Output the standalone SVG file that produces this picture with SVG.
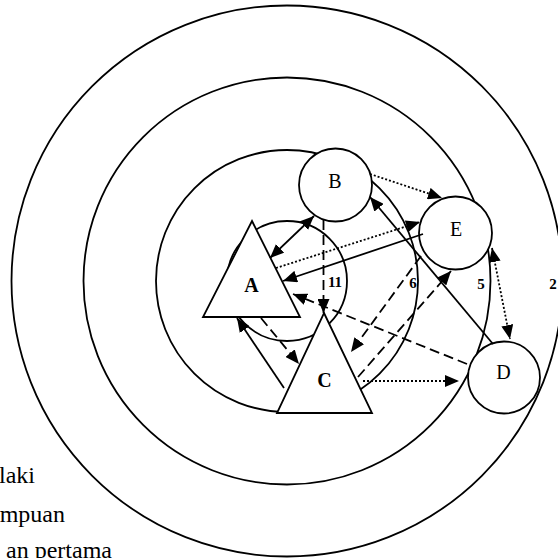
<svg xmlns="http://www.w3.org/2000/svg" width="558" height="558" viewBox="0 0 558 558">
<style>
.ring{fill:none;stroke:#000;stroke-width:1.8}
.node{fill:#fff;stroke:#000;stroke-width:1.8}
.lbl{font-family:"Liberation Serif","Times New Roman",serif;font-size:20px;text-anchor:middle;fill:#000}
.b{font-weight:bold}
.num{font-family:"Liberation Serif","Times New Roman",serif;font-size:15px;font-weight:bold;text-anchor:middle;fill:#000}
.leg{font-family:"Liberation Serif","Times New Roman",serif;font-size:24px;text-anchor:end;fill:#000}
.c{stroke:#000;stroke-width:1.8;fill:none}
.dash{stroke-dasharray:10 5}
.dot{stroke-dasharray:2 2}
</style>
<defs>
<marker id="ah" viewBox="0 0 14 12" refX="14" refY="6" markerWidth="14" markerHeight="12" markerUnits="userSpaceOnUse" orient="auto-start-reverse"><path d="M0,0L14,6L0,12z" fill="#000"/></marker>
</defs>
<g id="rings">
<circle class="ring" cx="287" cy="281" r="275.5"/>
<circle class="ring" cx="287" cy="281" r="203.5"/>
<circle class="ring" cx="287" cy="281" r="131"/>
<circle class="ring" cx="287" cy="281" r="60"/>
</g>
<g id="node-A"><polygon class="node" points="252,221 300,317 203,317"/><text class="lbl b" x="251.5" y="292">A</text></g>
<g id="node-C"><polygon class="node" points="324,313 372,413 277,413"/><text class="lbl b" x="324.5" y="387">C</text></g>
<g id="node-B"><circle class="node" cx="335.5" cy="185" r="36.5"/><text class="lbl" x="335" y="188">B</text></g>
<g id="node-E"><circle class="node" cx="455.5" cy="233" r="36.5"/><text class="lbl" x="456" y="236">E</text></g>
<g id="node-D"><circle class="node" cx="504" cy="377.5" r="36"/><text class="lbl" x="503.5" y="379">D</text></g>
<g id="connectors">
<line class="c" x1="270" y1="258" x2="314" y2="216" marker-start="url(#ah)" marker-end="url(#ah)"/>
<line class="c dot" x1="370" y1="174" x2="442" y2="198" marker-end="url(#ah)"/>
<line class="c" x1="423" y1="234" x2="283" y2="281" marker-end="url(#ah)"/>
<line class="c dot" x1="276" y1="268" x2="420" y2="222" marker-end="url(#ah)"/>
<line class="c" x1="493" y1="344" x2="370" y2="197" marker-end="url(#ah)"/>
<line class="c dash" x1="323.5" y1="220" x2="323.5" y2="313" marker-end="url(#ah)"/>
<line class="c dash" x1="467" y1="364" x2="293" y2="294" marker-end="url(#ah)"/>
<line class="c dash" x1="421" y1="256" x2="351" y2="352" marker-end="url(#ah)"/>
<line class="c dash" x1="358" y1="377" x2="451" y2="271" marker-end="url(#ah)"/>
<line class="c dash" x1="261" y1="318" x2="299" y2="364" marker-end="url(#ah)"/>
<line class="c" x1="284" y1="388" x2="237" y2="318" marker-end="url(#ah)"/>
<line class="c dot" x1="363" y1="381" x2="459" y2="381" marker-end="url(#ah)"/>
<line class="c dot" x1="492" y1="248" x2="510" y2="339" marker-start="url(#ah)" marker-end="url(#ah)"/>
</g>
<g id="ring-labels">
<text class="num" x="335" y="287">11</text>
<text class="num" x="413" y="288">6</text>
<text class="num" x="481" y="289">5</text>
<text class="num" x="553" y="289">2</text>
</g>
<g id="legend">
<text class="leg" x="35" y="483">laki</text>
<text class="leg" x="65" y="522">mpuan</text>
<text class="leg" x="112" y="558">an pertama</text>
</g>
</svg>
